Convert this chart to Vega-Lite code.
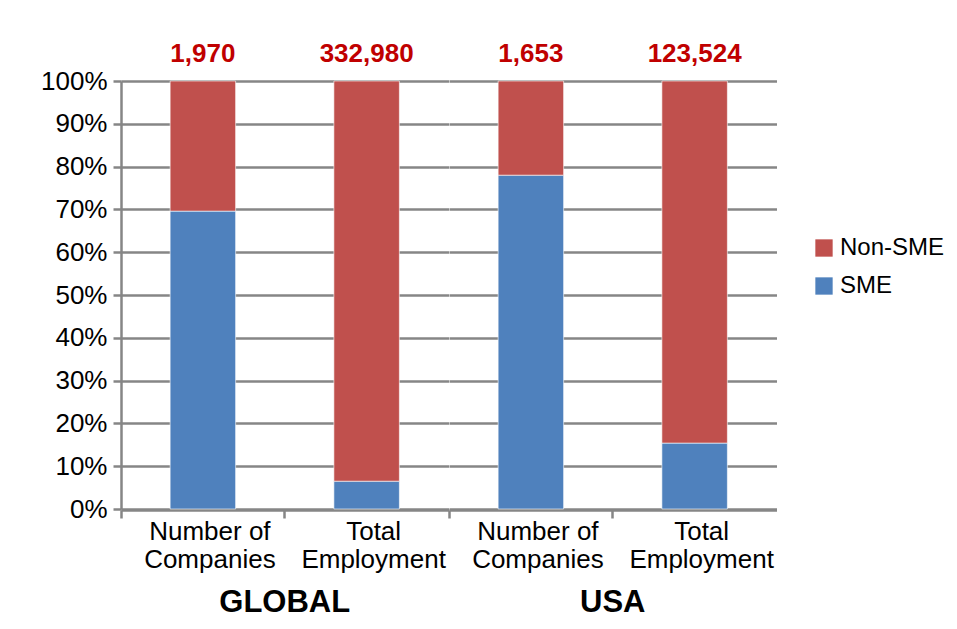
{
  "$schema": "https://vega.github.io/schema/vega-lite/v6.json",
  "autosize": "pad",
  "padding": {"left": 40, "top": 41, "right": 0, "bottom": 0},
  "background": "#ffffff",
  "data": {"values": [
    {"region": "GLOBAL", "measure": "Number of Companies", "segment": "SME", "share": 0.696, "total": "1,970"},
    {"region": "GLOBAL", "measure": "Number of Companies", "segment": "Non-SME", "share": 0.304, "total": "1,970"},
    {"region": "GLOBAL", "measure": "Total Employment", "segment": "SME", "share": 0.065, "total": "332,980"},
    {"region": "GLOBAL", "measure": "Total Employment", "segment": "Non-SME", "share": 0.935, "total": "332,980"},
    {"region": "USA", "measure": "Number of Companies", "segment": "SME", "share": 0.780, "total": "1,653"},
    {"region": "USA", "measure": "Number of Companies", "segment": "Non-SME", "share": 0.220, "total": "1,653"},
    {"region": "USA", "measure": "Total Employment", "segment": "SME", "share": 0.154, "total": "123,524"},
    {"region": "USA", "measure": "Total Employment", "segment": "Non-SME", "share": 0.846, "total": "123,524"}
  ]},
  "facet": {
    "column": {
      "field": "region", "type": "nominal", "sort": ["GLOBAL", "USA"], "title": null,
      "header": {"labelOrient": "bottom", "labelFont": "Liberation Sans", "labelFontSize": 31, "labelFontWeight": "bold", "labelColor": "#000000", "labelPadding": 16}
    }
  },
  "spacing": 0,
  "spec": {
    "width": 327.5,
    "height": 428,
    "layer": [
      {
        "mark": {"type": "bar", "stroke": "#ffffff", "strokeWidth": 0.6, "width": {"band": 0.4}},
        "encoding": {
          "x": {"field": "measure", "type": "nominal", "sort": ["Number of Companies", "Total Employment"],
            "scale": {"paddingInner": 0, "paddingOuter": 0},
            "axis": {"title": null, "labelAngle": 0, "bandPosition": 0, "tickSize": 8, "labelPadding": 0, "labelOffset": 7,
              "labelExpr": "datum.value == 'Number of Companies' ? ['Number of', 'Companies'] : ['Total', 'Employment']"}},
          "y": {"field": "share", "type": "quantitative", "stack": "zero",
            "scale": {"domain": [0, 1]},
            "axis": {"title": null, "format": ".0%", "labelFontSize": 26, "values": [0, 0.1, 0.2, 0.3, 0.4, 0.5, 0.6, 0.7, 0.8, 0.9, 1]}},
          "color": {"field": "segment", "type": "nominal",
            "scale": {"domain": ["Non-SME", "SME"], "range": ["#C0504D", "#4F81BD"]},
            "legend": {"title": null, "orient": "none", "legendX": 691, "legendY": 155, "symbolType": "square", "symbolSize": 300, "symbolStrokeWidth": 0, "labelFontSize": 24, "labelFont": "Liberation Sans", "labelColor": "#000000", "rowPadding": 14, "labelOffset": 4}},
          "order": {"field": "segment", "sort": "descending"}
        }
      },
      {
        "transform": [{"filter": "datum.segment == 'SME'"}],
        "mark": {"type": "text", "color": "#C00000", "font": "Liberation Sans", "fontSize": 26, "fontWeight": "bold", "baseline": "alphabetic", "dy": -19},
        "encoding": {
          "x": {"field": "measure", "type": "nominal", "sort": ["Number of Companies", "Total Employment"]},
          "y": {"datum": 1},
          "text": {"field": "total", "type": "nominal"}
        }
      }
    ]
  },
  "config": {
    "view": {"stroke": null},
    "axis": {
      "labelFont": "Liberation Sans", "labelFontSize": 26, "labelColor": "#000000",
      "domainColor": "#868686", "domainWidth": 2.5, "tickColor": "#868686", "tickWidth": 2.5, "tickSize": 8,
      "gridColor": "#868686", "gridWidth": 2.5, "labelPadding": 6
    },
    "axisX": {"grid": false, "labelLineHeight": 28},
    "axisY": {"grid": true}
  }
}
